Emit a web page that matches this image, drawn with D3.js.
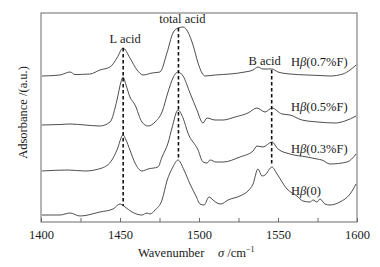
<!DOCTYPE html>
<html>
<head>
<meta charset="utf-8">
<script src="https://cdn.jsdelivr.net/npm/d3@7"></script>
<style>
  body { margin: 0; background: #fff; }
  text { font-family: "Liberation Serif", "Times New Roman", serif; fill: #1a1a1a; }
</style>
</head>
<body>
<div id="chart"></div>
<script>
// wavenumber (cm-1) and absorbance (a.u., offset stacked)
var h0_wn  = [1400.6,1412,1418.4,1424.7,1437.3,1445.6,1450,1453.2,1457.6,1463.9,1467.1,1469,1472.2,1476.6,1479.7,1483.5,1486.7,1490.5,1494.3,1498.1,1500.6,1503.2,1506.3,1508.9,1511.4,1513.9,1518.4,1525.9,1531,1534.2,1537.3,1539.9,1541.8,1546.2,1549.4,1555.7,1562,1565.8,1570.3,1572.2,1574.7,1576.6,1579.7,1582.9,1589.2,1595.6,1599.4];
var h0_abs = [7,7,9,6,10,13,18,15,10,7,9,8,12,22,41,55,62,52,38,26,18,17,25,22,19,18,22,26,31,38,53,46,47,55,48,33,26,21,20,22,20,23,18,17,20,28,38];

var h03_wn  = [1400.6,1417.1,1427.8,1438.6,1444.9,1448.1,1451.9,1453.8,1456.3,1459.5,1463.9,1467.7,1474,1476.6,1480.4,1482.9,1486.7,1489.9,1493,1499.4,1502.5,1505.1,1507,1510.8,1515.2,1525.9,1534.2,1536.7,1540.5,1546.2,1550,1557.6,1568.4,1574.7,1577.8,1582.9,1593.7,1599.4];
var h03_abs = [51,52,51,54,62,72,87,82,72,59,51,53,55,65,79,94,112,104,89,72,60,59,62,60,60,65,71,76,75,80,73,68,65,63,62,58,60,68];

var h05_wn  = [1400.6,1412,1418.4,1427.8,1437.3,1443.7,1448.1,1450.6,1451.9,1453.8,1456.3,1459.5,1463.9,1467.7,1472.2,1476.6,1480.4,1483.5,1486.7,1489.9,1494.3,1498.7,1502.5,1505.1,1510.1,1515.2,1522.8,1531,1536.7,1541.8,1546.2,1552.5,1557.6,1565.2,1575.3,1586.1,1592.4,1599.4];
var h05_abs = [97,97.5,98,97,96,100,122,140,145,137,125,117,100,96,100,110,130,144,150,146,129,112,99,104,102,102,105,109,114,110,114,108,107,102,100,99,101,106];

var h07_wn  = [1400.6,1412,1418.4,1421.5,1431,1437.3,1443.7,1448.1,1451.9,1456.3,1460.8,1464.6,1470.3,1475.3,1479.7,1483.5,1486.7,1489.9,1493,1496.2,1499.4,1501.9,1503.8,1510.1,1519.6,1529.1,1534.2,1537.3,1540.5,1546.2,1550,1557.6,1568.4,1576.6,1582.9,1591.1,1595.6,1599.4];
var h07_abs = [146,147,150,147.5,148,152,155,164,174,164,152,147,149,150,169,189,194,195,190,177,159,149,146,147,148,150,152,155,153,153,150,148,147,146.5,146,148,152,157];

var seriesNames = ["(0)", "(0.3%F)", "(0.5%F)", "(0.7%F)"];
var labelAbs = [27, 69, 111, 156];

// acid sites: wavenumber, absorbance at top and bottom of the dashed marker
var siteNames = ["L acid", "total acid", "B acid"];
var siteWn = [1452, 1487, 1546];
var siteTop = [174, 194, 152];
var siteBottom = [16, 62, 56];

var xTicks = [1400, 1450, 1500, 1550, 1600];
var xMinor = [1425, 1475, 1525, 1575];

function init() {
    var W = 380, H = 267;
    var margin = { top: 13, right: 23, bottom: 45, left: 41 };
    var w = W - margin.left - margin.right;
    var h = H - margin.top - margin.bottom;

    var svg = d3.select("#chart").append("svg")
        .attr("width", W).attr("height", H)
        .append("g")
        .attr("transform", "translate(" + margin.left + "," + margin.top + ")");

    var x = d3.scaleLinear().domain([1400, 1600]).range([0, w]);
    var y = d3.scaleLinear().domain([0, 209]).range([h, 0]);

    var series = [
        { wn: h0_wn, abs: h0_abs },
        { wn: h03_wn, abs: h03_abs },
        { wn: h05_wn, abs: h05_abs },
        { wn: h07_wn, abs: h07_abs }
    ];

    var line = d3.line()
        .x(function(d) { return x(d[0]); })
        .y(function(d) { return y(d[1]); })
        .curve(d3.curveMonotoneX);

    // spectra
    series.forEach(function(s) {
        svg.append("path")
           .datum(d3.zip(s.wn, s.abs))
           .attr("d", line)
           .attr("fill", "none")
           .attr("stroke", "#3a3a3a")
           .attr("stroke-width", 0.9);
    });

    // dashed peak markers
    siteWn.forEach(function(wn, i) {
        svg.append("line")
           .attr("x1", x(wn)).attr("x2", x(wn))
           .attr("y1", y(siteTop[i])).attr("y2", y(siteBottom[i]))
           .attr("stroke", "#111")
           .attr("stroke-width", 1.6)
           .attr("stroke-dasharray", "3.5,2.5");
    });

    var labelDx = [2, 4, -7];
    siteNames.forEach(function(name, i) {
        svg.append("text")
           .attr("x", x(siteWn[i]) + labelDx[i])
           .attr("y", y(siteTop[i]) - 5)
           .attr("text-anchor", "middle")
           .style("font-size", "12.5px")
           .text(name);
    });

    // series labels
    seriesNames.forEach(function(name, i) {
        var t = svg.append("text")
           .attr("x", 250)
           .attr("y", y(labelAbs[i]))
           .style("font-size", "12.5px");
        t.append("tspan").text("H");
        t.append("tspan").style("font-style", "italic").text("\u03b2");
        t.append("tspan").text(name);
    });

    // frame
    svg.append("rect")
       .attr("width", w).attr("height", h)
       .attr("fill", "none")
       .attr("stroke", "#6a6a6a")
       .attr("stroke-width", 1);

    // x axis, ticks pointing inward
    var xAxis = d3.axisBottom(x).tickValues(xTicks)
        .tickSize(-4).tickSizeOuter(0).tickPadding(8)
        .tickFormat(d3.format("d"));
    var gx = svg.append("g")
       .attr("transform", "translate(0," + h + ")")
       .call(xAxis);
    gx.select(".domain").remove();
    gx.selectAll("line").attr("stroke", "#6a6a6a");
    gx.selectAll("text").style("font-size", "12.5px").attr("fill", "#1a1a1a");

    var gm = svg.append("g")
       .attr("transform", "translate(0," + h + ")")
       .call(d3.axisBottom(x).tickValues(xMinor).tickSize(-4).tickFormat(""));
    gm.select(".domain").remove();
    gm.selectAll("line").attr("stroke", "#6a6a6a");

    // axis titles
    var xt = svg.append("text")
       .attr("x", 97)
       .attr("y", h + 35)
       .style("font-size", "12.5px");
    xt.append("tspan").text("Wavenumber");
    xt.append("tspan").attr("x", 177).style("font-style", "italic").text("\u03c3");
    xt.append("tspan").text(" /cm");
    xt.append("tspan").attr("dy", -5).style("font-size", "8px").text("\u22121");

    svg.append("text")
       .attr("transform", "rotate(-90)")
       .attr("x", -h / 2 + 5)
       .attr("y", -14)
       .attr("text-anchor", "middle")
       .style("font-size", "12.5px")
       .text("Adsorbance /(a.u.)");
}

window.onload = init;
</script>
</body>
</html>
